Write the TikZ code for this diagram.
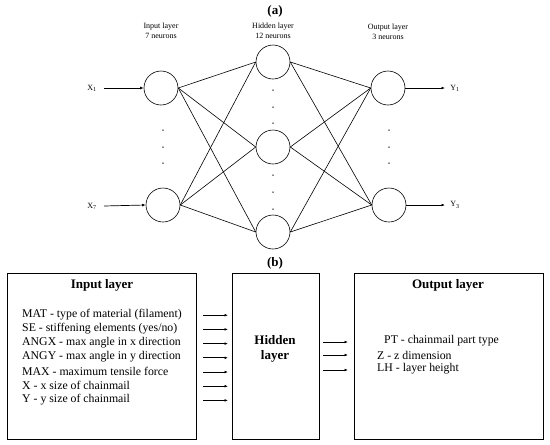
\documentclass[tikz,border=0pt]{standalone}
\usepackage{fontspec}
\setmainfont{Liberation Serif}
\usetikzlibrary{arrows.meta}
\begin{document}
\begin{tikzpicture}[x=1pt,y=-1pt,
  neuron/.style={draw,circle,minimum size=34pt,inner sep=0pt,line width=0.6pt},
  link/.style={line width=0.6pt},
  arr/.style={line width=0.7pt,-{Latex[length=3.5pt,width=2.8pt]}},
  small/.style={font=\fontsize{8}{10.5}\selectfont,align=center,inner sep=0pt},
  lbl/.style={font=\fontsize{8}{10}\selectfont,inner sep=0pt},
  dotn/.style={circle,fill,inner sep=0pt,minimum size=1.5pt},
  box/.style={draw,line width=0.7pt},
  body/.style={font=\fontsize{11.8}{14.2}\selectfont,anchor=west,inner sep=0pt},
  head/.style={font=\fontsize{13}{15}\selectfont\bfseries,inner sep=0pt,align=center}]
\useasboundingbox (0,0) rectangle (550,445);
% (a)
\node[head] (ta) at (275,11) {(a)};
\node[small] (li) at (161,31) {Input layer\\7 neurons};
\node[small] (lh) at (273,31) {Hidden layer\\12 neurons};
\node[small] (lo) at (388,32) {Output layer\\3 neurons};
\node[neuron] (i1) at (161,88) {};
\node[neuron] (i7) at (163,205) {};
\node[neuron] (h1) at (273,62) {};
\node[neuron] (h2) at (273,147) {};
\node[neuron] (h3) at (273,232) {};
\node[neuron] (o1) at (388,88) {};
\node[neuron] (o3) at (389,205) {};
\foreach \y [count=\k] in {130,147,163}{
  \node[dotn] (di\k) at (163,\y) {};
  \node[dotn] (do\k) at (389,\y) {};
}
\foreach \y [count=\k] in {90,107,123,175,192,209}{
  \node[dotn] (dh\k) at (273,\y) {};
}
\foreach \a in {i1,i7}{
  \foreach \b in {h1,h2,h3}{
    \draw[link] (\a.east) -- (\b.west);
  }
}
\foreach \a in {h1,h2,h3}{
  \foreach \b in {o1,o3}{
    \draw[link] (\a.east) -- (\b.west);
  }
}
\node[lbl] (x1) at (92,88) {X\textsubscript{1}};
\node[lbl] (x7) at (92,206) {X\textsubscript{7}};
\node[lbl] (y1) at (455,88) {Y\textsubscript{1}};
\node[lbl] (y3) at (455,205) {Y\textsubscript{3}};
\coordinate (ax1) at (104,88);
\coordinate (ax7) at (104,206);
\coordinate (ay1) at (445,88);
\coordinate (ay3) at (445,205);
\draw[arr] (ax1) -- (i1.west);
\draw[arr] (ax7) -- (i7.west);
\draw[arr] (o1.east) -- (ay1);
\draw[arr] (o3.east) -- (ay3);
% (b)
\node[head] (tb) at (275,263) {(b)};
\draw[box] (7,273) rectangle (196,439);
\draw[box] (232,273) rectangle (319,439);
\draw[box] (354,273) rectangle (543,439);
\node[head] (hi) at (102,285) {Input layer};
\node[head] (hh) at (275,349) {Hidden\\layer};
\node[head] (ho) at (448,285) {Output layer};
\foreach \t [count=\k] in {MAT - type of material (filament),SE - stiffening elements (yes/no),ANGX - max angle in x direction,ANGY - max angle in y direction,MAX - maximum tensile force,X - x size of chainmail,Y - y size of chainmail}{
  \node[body] (t\k) at (22,{300+14.2*\k}) {\t};
  \coordinate (as\k) at (203,{301+14.2*\k});
  \coordinate (ae\k) at (228,{301+14.2*\k});
  \draw[arr] (as\k) -- (ae\k);
}
\node[body] (p1) at (384,341) {PT - chainmail part type};
\node[body] (p2) at (377,355) {Z - z dimension};
\node[body] (p3) at (377,369) {LH - layer height};
\foreach \y [count=\k] in {342,355,370}{
  \coordinate (bs\k) at (323,\y);
  \coordinate (be\k) at (348,\y);
  \draw[arr] (bs\k) -- (be\k);
}
\end{tikzpicture}
\end{document}
